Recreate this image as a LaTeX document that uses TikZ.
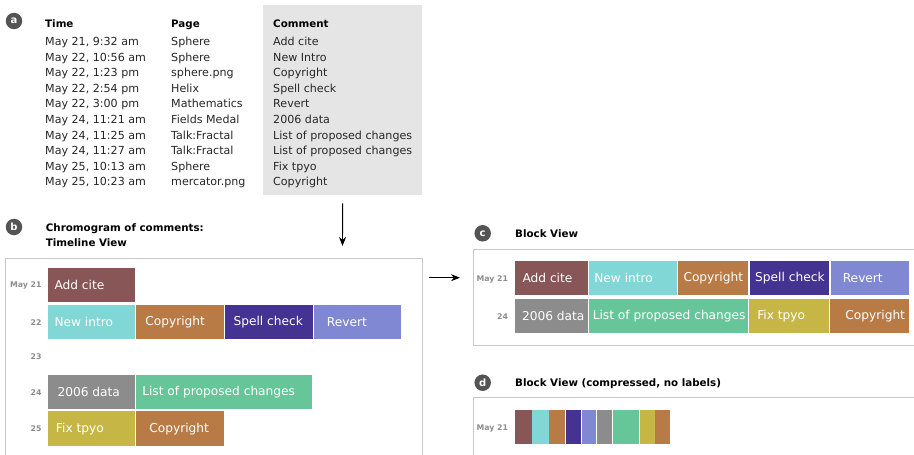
\documentclass[tikz,border=0pt]{standalone}
\usepackage{fontspec}
\setmainfont{DejaVu Sans}
\usetikzlibrary{arrows.meta,positioning}
\definecolor{cAdd}{HTML}{885656}
\definecolor{cNew}{HTML}{80D7D6}
\definecolor{cCopy}{HTML}{B87B46}
\definecolor{cSpell}{HTML}{443390}
\definecolor{cRevert}{HTML}{8088D4}
\definecolor{cData}{HTML}{8C8C8C}
\definecolor{cList}{HTML}{66C69A}
\definecolor{cFix}{HTML}{C5B646}

\begin{document}
\begin{tikzpicture}[x=1pt,y=-1pt,
    badge/.style={circle,fill=black!67,text=white,inner sep=0pt,minimum size=16.5pt,font=\bfseries\fontsize{10}{10}\selectfont},
    head/.style={anchor=base west,inner sep=0pt,font=\bfseries\fontsize{10.3}{12}\selectfont},
    cell/.style={anchor=base west,inner sep=0pt,text=black!85,font=\fontsize{11.1}{13}\selectfont},
    day/.style={anchor=east,inner sep=0pt,text=black!45,font=\bfseries\fontsize{7.8}{9}\selectfont},
    blk/.style={anchor=north west,minimum height=34.5pt,inner sep=0pt},
    tx/.style={anchor=west,inner ysep=0pt,inner xsep=#1,text=white,font=\fontsize{12.2}{14}\selectfont},
    tx/.default=8pt,
    frame/.style={draw=black!22,line width=0.9pt},
    arr/.style={-{Stealth[length=9pt,width=7pt]},line width=0.9pt}]
  \useasboundingbox (0,0) rectangle (914,455);

  % (a) list of edits
  \node[badge] (ba) at (14,21) {a};
  \node[fill=black!10,anchor=north west,inner sep=0pt,minimum width=159pt,minimum height=190pt] (cbox) at (263,5) {};
  \node[head] (hTime) at (45,27.5) {Time};
  \node[head] (hPage) at (171,27.5) {Page};
  \node[head] (hComment) at (273,27.5) {Comment};
  \foreach \tm/\pg/\cmt [count=\i] in {
      {May 21, 9:32 am}/Sphere/Add cite,
      {May 22, 10:56 am}/Sphere/New Intro,
      {May 22, 1:23 pm}/sphere.png/Copyright,
      {May 22, 2:54 pm}/Helix/Spell check,
      {May 22, 3:00 pm}/Mathematics/Revert,
      {May 24, 11:21 am}/Fields Medal/2006 data,
      {May 24, 11:25 am}/Talk:Fractal/List of proposed changes,
      {May 24, 11:27 am}/Talk:Fractal/List of proposed changes,
      {May 25, 10:13 am}/Sphere/Fix tpyo,
      {May 25, 10:23 am}/mercator.png/Copyright}{
    \node[cell] (t\i) at (45,30.15+15.55*\i) {\tm};
    \node[cell] (p\i) at (171,30.15+15.55*\i) {\pg};
    \node[cell] (c\i) at (273,30.15+15.55*\i) {\cmt};
  }
  \coordinate (tlIn) at (342.5,246);
  \draw[arr,shorten <=8pt] (cbox.south) -- (tlIn);

  % (b) timeline view
  \node[badge] (bb) at (14,227) {b};
  \node[head] (tl1) at (45.7,231) {Chromogram of comments:};
  \node[head] (tl2) at (45.7,246) {Timeline View};
  \draw[frame] (5.5,470) |- (422,258) -- (422,470);
  \node[day] (d21) at (41.7,285) {May 21};
  \node[day] (d22) at (41.7,322.3) {22};
  \node[day] (d23) at (41.7,356.7) {23};
  \node[day] (d24) at (41.7,392.7) {24};
  \node[day] (d25) at (41.7,428.3) {25};
  \node[blk,fill=cAdd,minimum width=87.4pt,label={[tx=7pt]west:Add cite}] (a1) at (47.3,267.7) {};
  \node[blk,fill=cNew,minimum width=87.4pt,label={[tx=7pt]west:New intro}] (a2) at (47.3,304.3) {};
  \node[blk,fill=cCopy,minimum width=87.4pt,right=1pt of a2,label={[tx=9pt]west:Copyright}] (a3) {};
  \node[blk,fill=cSpell,minimum width=87.4pt,right=1pt of a3,label={[tx=8.5pt]west:Spell check}] (a4) {};
  \node[blk,fill=cRevert,minimum width=87.4pt,right=1pt of a4,label={[tx=13pt]west:Revert}] (a5) {};
  \node[blk,fill=cData,minimum width=87.4pt,label={[tx=10pt]west:2006 data}] (a6) at (47.3,374.5) {};
  \node[blk,fill=cList,minimum width=175.6pt,right=1pt of a6,label={[tx=6pt]west:List of proposed changes}] (a7) {};
  \node[blk,fill=cFix,minimum width=87.4pt,label={[tx=8.5pt]west:Fix tpyo}] (a8) at (47.3,411.2) {};
  \node[blk,fill=cCopy,minimum width=87.4pt,right=1pt of a8,label={[tx=13pt]west:Copyright}] (a9) {};
  \coordinate (tlOut) at (422,277.7);
  \coordinate (bvIn) at (473,277.7);
  \draw[arr,shorten <=7pt,shorten >=13pt] (tlOut) -- (bvIn);

  % (c) block view
  \node[badge] (bc) at (482.7,233.3) {c};
  \node[head] (bv) at (515,237.3) {Block View};
  \draw[frame] (920,249) -| (473,345) -- (920,345);
  \node[day] (e21) at (508.3,279) {May 21};
  \node[day] (e24) at (508.3,316.7) {24};
  \node[blk,fill=cAdd,minimum width=73.4pt,label={[tx=8pt]west:Add cite}] (b1) at (514.3,260.7) {};
  \node[blk,fill=cNew,minimum width=87.3pt,right=1pt of b1,label={[tx=5pt]west:New intro}] (b2) {};
  \node[blk,fill=cCopy,minimum width=70.3pt,right=1pt of b2,label={[tx=5.5pt]west:Copyright}] (b3) {};
  \node[blk,fill=cSpell,minimum width=79.7pt,right=1pt of b3,label={[tx=5.5pt]west:Spell check}] (b4) {};
  \node[blk,fill=cRevert,minimum width=78.3pt,right=1pt of b4,label={[tx=12pt]west:Revert}] (b5) {};
  \node[blk,fill=cData,minimum width=73.4pt,label={[tx=7.5pt]west:2006 data}] (b6) at (514.3,298.3) {};
  \node[blk,fill=cList,minimum width=158.6pt,right=1pt of b6,label={[tx=3.5pt]west:List of proposed changes}] (b7) {};
  \node[blk,fill=cFix,minimum width=79.7pt,right=1pt of b7,label={[tx=8pt]west:Fix tpyo}] (b8) {};
  \node[blk,fill=cCopy,minimum width=78.3pt,right=1pt of b8,label={[tx=15pt]west:Copyright}] (b9) {};

  % (d) compressed block view
  \node[badge] (bd) at (482.7,382.7) {d};
  \node[head] (bvc) at (515,386.7) {Block View (compressed, no labels)};
  \draw[frame] (920,397.7) -| (473,470);
  \node[day] (f21) at (508.3,428) {May 21};
  \coordinate (k0) at (514.3,427);
  \foreach \col/\w [count=\i, remember=\i as \j (initially 0)] in
      {cAdd/17.4,cNew/16.6,cCopy/16,cSpell/15.7,cRevert/14.3,cData/15.7,cList/26.7,cFix/15.3,cCopy/14.7}
    \node[blk,fill=\col,minimum width=\w pt,minimum height=34pt,right=0pt of k\j] (k\i) {};
\end{tikzpicture}
\end{document}
